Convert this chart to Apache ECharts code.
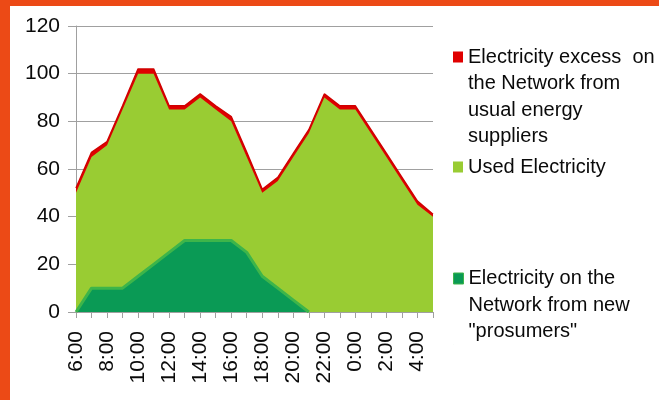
<!DOCTYPE html>
<html>
<head>
<meta charset="utf-8">
<script src="https://cdn.jsdelivr.net/npm/echarts@6/dist/echarts.min.js"></script>
<style>
html,body{margin:0;padding:0;background:#fff;}
#chart{width:659px;height:400px;}
</style>
</head>
<body>
<div id="chart"></div>
<script>
var categories = ['6:00','7:00','8:00','9:00','10:00','11:00','12:00','13:00','14:00','15:00','16:00','17:00','18:00','19:00','20:00','21:00','22:00','23:00','0:00','1:00','2:00','3:00','4:00','5:00'];
var excessTop = [52, 67, 71.5, 86.5, 102, 102, 86.5, 86.5, 91.5, 86.5, 82, 67, 51.5, 56.5, 66.5, 76.5, 91.5, 86.5, 86.5, 76.5, 66.5, 56.5, 46.5, 41];
var usedElectricity = [50, 65, 70, 85, 100, 100, 85, 85, 90, 85, 80, 65, 50, 55, 65, 75, 90, 85, 85, 75, 65, 55, 45, 40];
var prosumers = [0, 10, 10, 10, 15, 20, 25, 30, 30, 30, 30, 25, 15, 10, 5, 0, null, null, null, null, null, null, null, null];
var yTicks = [0, 20, 40, 60, 80, 100, 120];
var seriesNames = ['excess', 'used', 'prosumers'];
var legendTexts = [
  'Electricity excess  on\nthe Network from\nusual energy\nsuppliers',
  'Used Electricity',
  'Electricity on the\nNetwork from new\n"prosumers"'
];

var FONT = '"Liberation Sans", Arial, sans-serif';
var LH = 26.5;
function iconPath(n) {
  var h = n * LH;
  var y0 = LH / 2 - 5.5, y1 = LH / 2 + 5.5;
  return 'path://M0,' + y0 + 'H10V' + y1 + 'H0Z M0,0h0.01v0.01h-0.01Z M0,' + h + 'h0.01v-0.01h-0.01Z';
}
function makeLegend(idx, top, n, itemStyle) {
  return {
    show: true,
    orient: 'vertical',
    left: 453,
    top: top,
    padding: 0,
    data: [seriesNames[idx]],
    icon: iconPath(n),
    symbolKeepAspect: false,
    itemWidth: 10,
    itemHeight: n * LH,
    itemGap: 0,
    selectedMode: false,
    itemStyle: itemStyle,
    formatter: function () { return legendTexts[idx]; },
    textStyle: { fontFamily: FONT, fontSize: 20, color: '#0a0a0a', lineHeight: LH }
  };
}

var chart = echarts.init(document.getElementById('chart'), null, { renderer: 'canvas' });
chart.setOption({
  animation: false,
  backgroundColor: '#fff',
  graphic: [
    { type: 'rect', shape: { x: 0, y: 0, width: 659, height: 6 }, style: { fill: '#EC4A16' }, z: 100 },
    { type: 'rect', shape: { x: 0, y: 0, width: 10, height: 400 }, style: { fill: '#EC4A16' }, z: 100 }
  ],
  grid: { left: 76, right: 226, top: 26, bottom: 88 },
  legend: [
    makeLegend(0, 57 - LH / 2, 4, { color: '#E00000', borderWidth: 0 }),
    makeLegend(1, 167 - LH / 2, 1, { color: '#99CC33', borderWidth: 0 }),
    makeLegend(2, 278 - LH / 2, 3, { color: '#0A9A55', borderColor: '#3DB54A', borderWidth: 1 })
  ],
  xAxis: {
    type: 'category',
    data: categories,
    boundaryGap: false,
    axisLine: { show: true, lineStyle: { color: '#A0A0A0', width: 1 } },
    axisTick: { show: true, interval: 0, length: 6, lineStyle: { color: '#A0A0A0' } },
    axisLabel: { interval: 1, rotate: 90, margin: 19, fontFamily: FONT, fontSize: 21, color: '#0a0a0a' },
    splitLine: { show: false }
  },
  yAxis: {
    type: 'value',
    min: yTicks[0],
    max: yTicks[yTicks.length - 1],
    interval: yTicks[1] - yTicks[0],
    axisLine: { show: true, lineStyle: { color: '#A0A0A0', width: 1 } },
    axisTick: { show: true, length: 8, lineStyle: { color: '#A0A0A0' } },
    axisLabel: { margin: 16, fontFamily: FONT, fontSize: 21, color: '#0a0a0a' },
    splitLine: { show: true, lineStyle: { color: '#A0A0A0', width: 1 } }
  },
  series: [
    {
      name: seriesNames[0], type: 'line', data: excessTop, showSymbol: false, symbol: 'none',
      itemStyle: { color: '#E00000' },
      lineStyle: { color: '#D00000', width: 1.5 },
      areaStyle: { color: '#E00000', opacity: 1 }
    },
    {
      name: seriesNames[1], type: 'line', data: usedElectricity, showSymbol: false, symbol: 'none',
      itemStyle: { color: '#99CC33' },
      lineStyle: { width: 0 },
      areaStyle: { color: '#99CC33', opacity: 1 }
    },
    {
      name: seriesNames[2], type: 'line', data: prosumers, showSymbol: false, symbol: 'none',
      itemStyle: { color: '#0A9A55' },
      lineStyle: { color: '#3DB54A', width: 3 },
      areaStyle: { color: '#0A9A55', opacity: 1 }
    }
  ]
});
</script>
</body>
</html>
